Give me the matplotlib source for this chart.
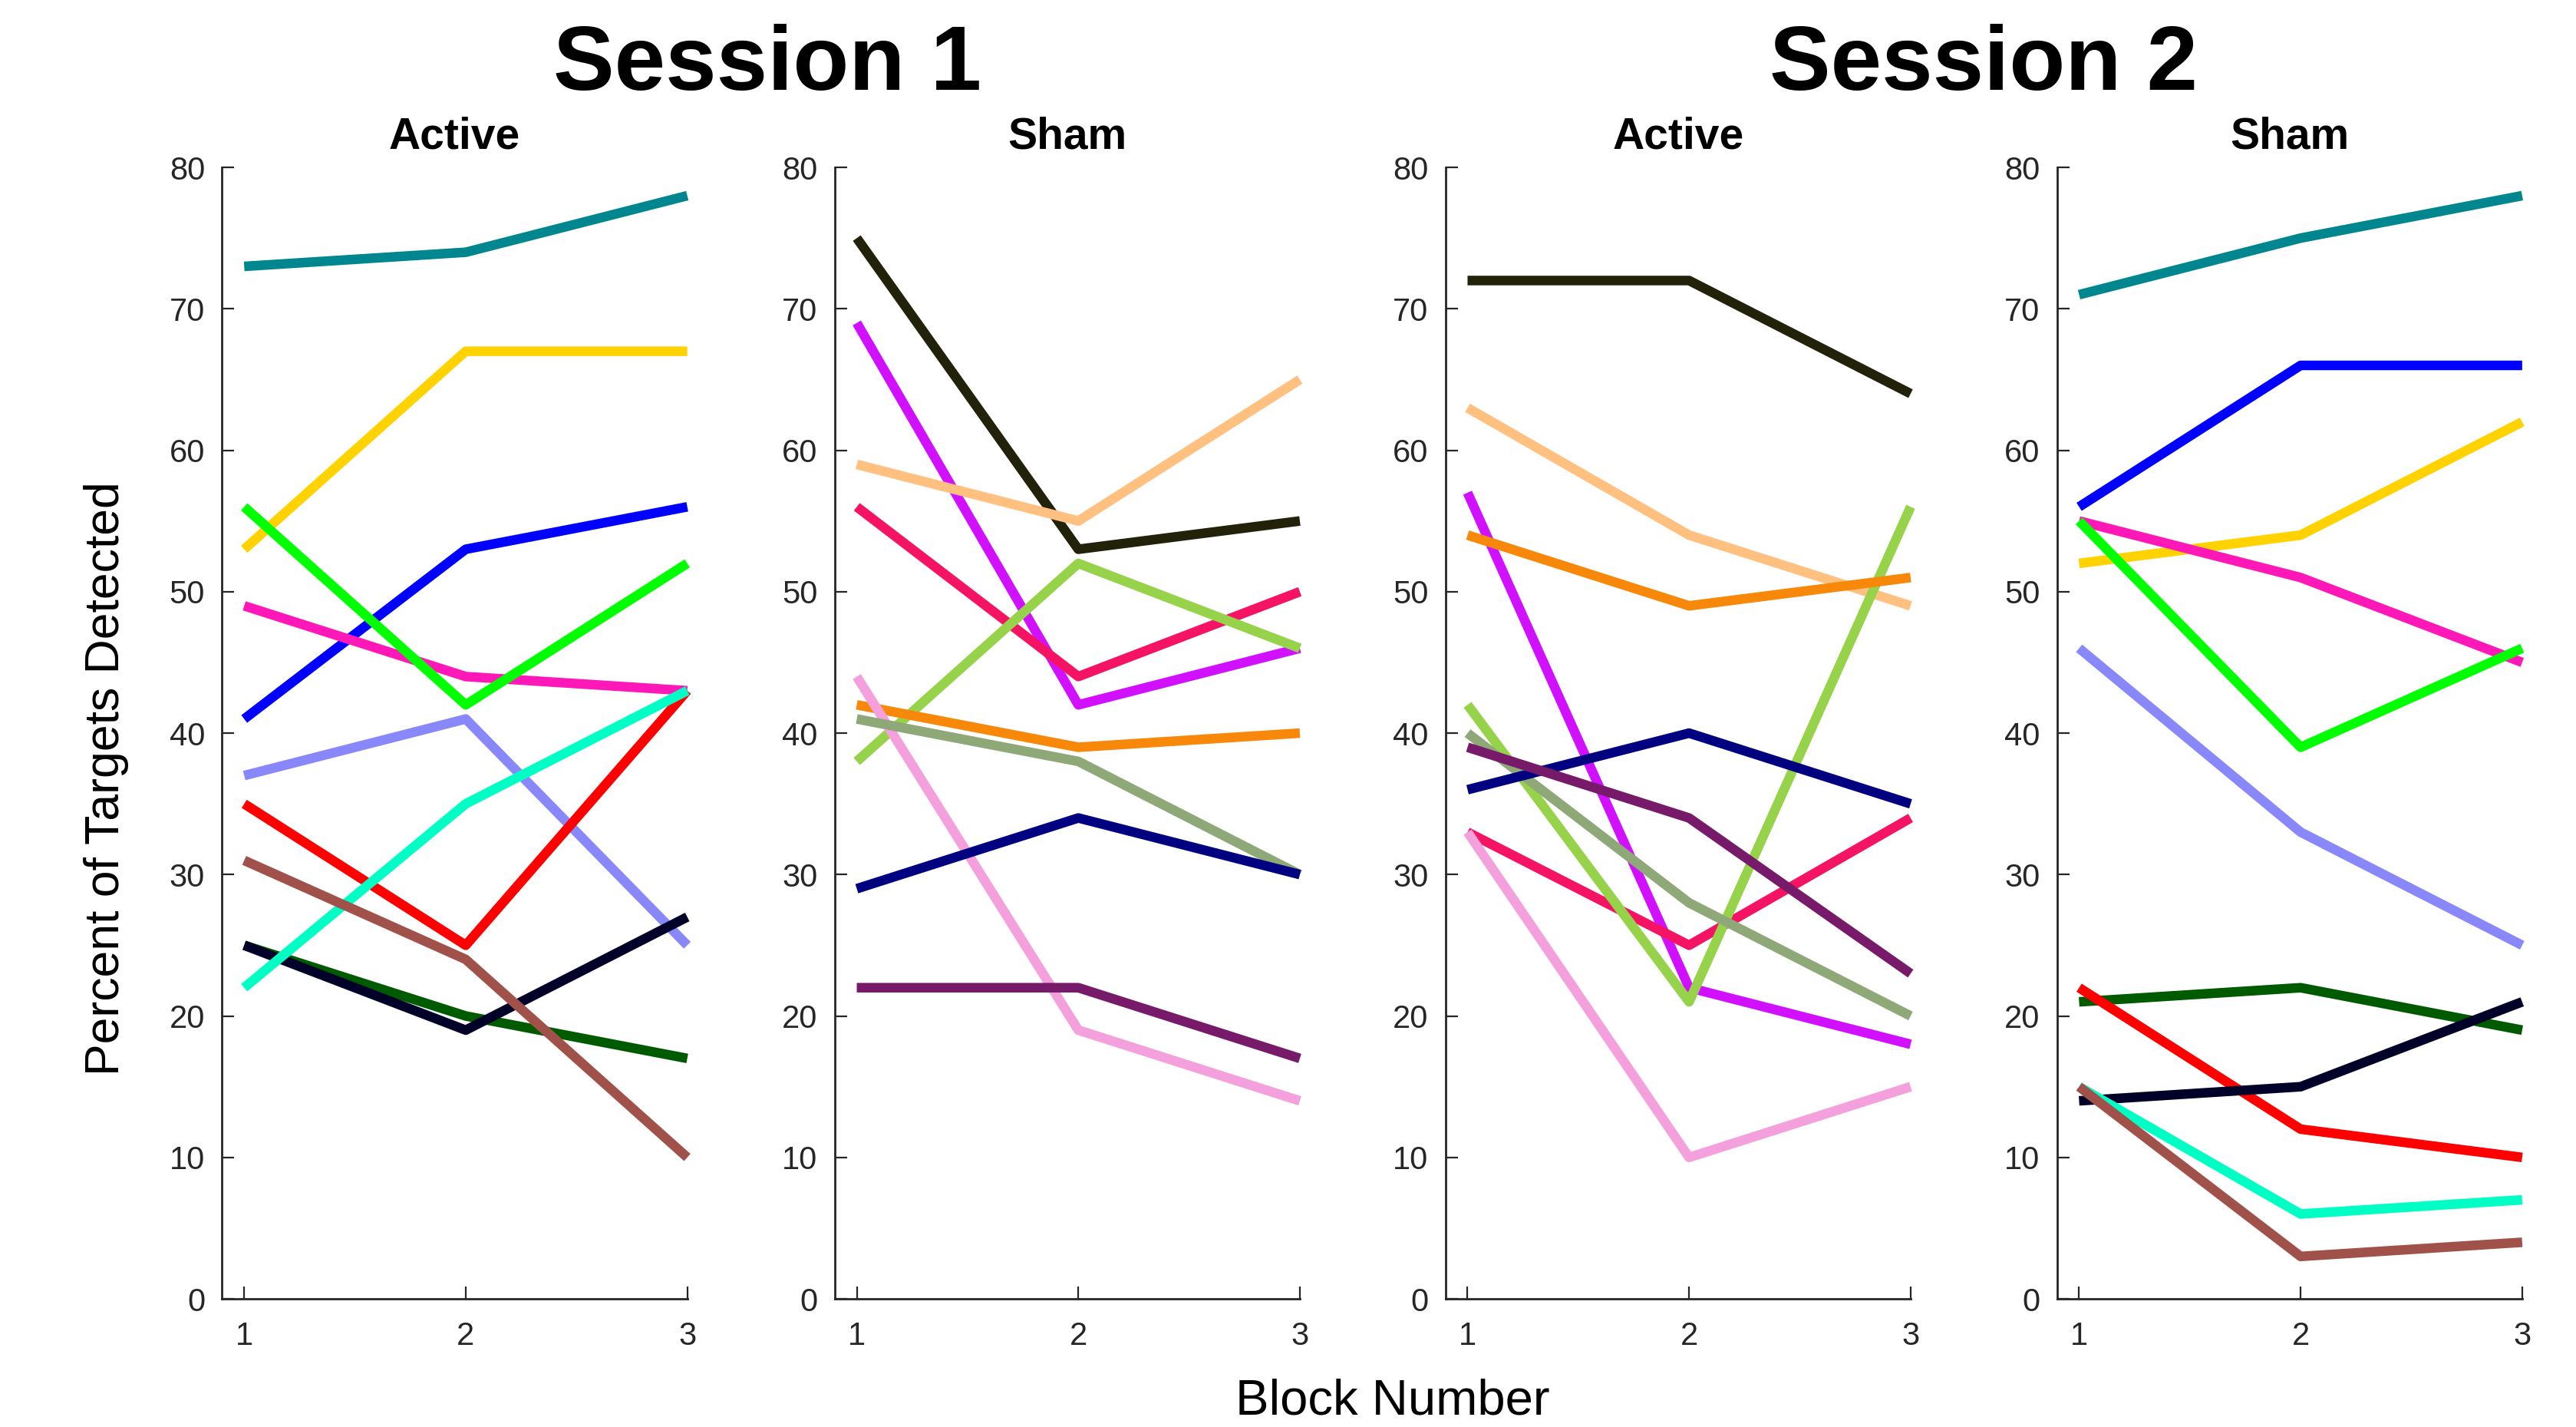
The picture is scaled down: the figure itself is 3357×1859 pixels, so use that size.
import matplotlib
matplotlib.use("Agg")
from matplotlib import pyplot as plt

plt.rcParams['font.family'] = ['Liberation Sans', 'DejaVu Sans']

blocks = [1, 2, 3]

# subjects of the first group (Session 1 Active, Session 2 Sham)
group_a_colors = ['#00868F', '#0000FF', '#FFD200', '#FF18B8', '#00FF00',
                  '#8888FA', '#005A00', '#FF0000', '#000028', '#00FFC4',
                  '#A0524A']
s1_active = [
    [73, 74, 78],
    [41, 53, 56],
    [53, 67, 67],
    [49, 44, 43],
    [56, 42, 52],
    [37, 41, 25],
    [25, 20, 17],
    [35, 25, 43],
    [25, 19, 27],
    [22, 35, 43],
    [31, 24, 10],
]
s2_sham = [
    [71, 75, 78],
    [56, 66, 66],
    [52, 54, 62],
    [55, 51, 45],
    [55, 39, 46],
    [46, 33, 25],
    [21, 22, 19],
    [22, 12, 10],
    [14, 15, 21],
    [15, 6, 7],
    [15, 3, 4],
]

# subjects of the second group (Session 1 Sham, Session 2 Active)
group_b_colors = ['#22220A', '#D010FF', '#FFC080', '#F51464', '#96D24A',
                  '#F8880A', '#F4A0DC', '#8FA878', '#000080', '#781A6A']
s1_sham = [
    [75, 53, 55],
    [69, 42, 46],
    [59, 55, 65],
    [56, 44, 50],
    [38, 52, 46],
    [42, 39, 40],
    [44, 19, 14],
    [41, 38, 30],
    [29, 34, 30],
    [22, 22, 17],
]
s2_active = [
    [72, 72, 64],
    [57, 22, 18],
    [63, 54, 49],
    [33, 25, 34],
    [42, 21, 56],
    [54, 49, 51],
    [33, 10, 15],
    [40, 28, 20],
    [36, 40, 35],
    [39, 34, 23],
]

panels = [
    ('Active', s1_active, group_a_colors),
    ('Sham', s1_sham, group_b_colors),
    ('Active', s2_active, group_b_colors),
    ('Sham', s2_sham, group_a_colors),
]

axis_color = '#262626'
fig = plt.figure(figsize=(33.57, 18.59), dpi=100)
lefts = [0.0862, 0.3240, 0.5611, 0.7985]

for left, (name, data, colors) in zip(lefts, panels):
    ax = fig.add_axes([left, 0.0898, 0.1806, 0.7929])
    for values, c in zip(data, colors):
        ax.plot(blocks, values, color=c, linewidth=9,
                solid_capstyle='butt', solid_joinstyle='round', clip_on=False)
    ax.set_xlim(0.9, 3)
    ax.set_ylim(0, 80)
    ax.set_xticks(blocks)
    ax.set_yticks(range(0, 81, 10))
    for side in ['top', 'right']:
        ax.spines[side].set_visible(False)
    for side in ['left', 'bottom']:
        ax.spines[side].set_color(axis_color)
        ax.spines[side].set_linewidth(2)
    ax.tick_params(axis='both', direction='in', length=11.5, width=1.6,
                   colors=axis_color, labelsize=30)
    ax.tick_params(axis='y', pad=16)
    ax.tick_params(axis='x', pad=21)
    ax.set_title(name, fontsize=41, fontweight='bold', pad=18)

fig.text(0.298, 0.937, 'Session 1', fontsize=86, fontweight='bold',
         ha='center', va='baseline')
fig.text(0.770, 0.937, 'Session 2', fontsize=86, fontweight='bold',
         ha='center', va='baseline')
fig.text(0.0414, 0.4545, 'Percent of Targets Detected', fontsize=45,
         rotation=90, ha='center', va='center')
fig.text(0.5407, 0.018, 'Block Number', fontsize=47, ha='center', va='center')

fig.savefig('out.png', dpi=100)
